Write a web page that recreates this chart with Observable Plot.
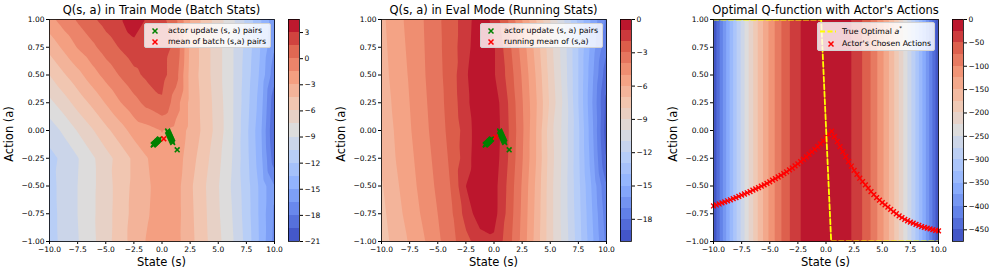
<!DOCTYPE html>
<html><head><meta charset="utf-8">
<script src="https://cdn.jsdelivr.net/npm/d3@7"></script>
<script src="https://cdn.jsdelivr.net/npm/@observablehq/plot@0.6"></script>
<style>
html,body{margin:0;padding:0;background:#fff;}
body{font-family:"DejaVu Sans",sans-serif;color:#000;}
#root{position:relative;width:996px;height:275px;overflow:hidden;}
.panel{position:absolute;top:0;width:332px;height:275px;}
.panel svg{position:absolute;top:0;overflow:visible;}
.t{position:absolute;white-space:nowrap;line-height:1;transform:translate(-50%,-50%);}
.big{font-size:11.5px;}
.rot{transform:translate(-50%,-50%) rotate(-90deg);}
.legend{position:absolute;background:rgba(255,255,255,0.8);border:1px solid #d3d3d3;border-radius:2px;box-sizing:border-box;}
.lt{position:absolute;font-size:7.8px;line-height:1;white-space:nowrap;transform:translateY(-50%);}
.lm{position:absolute;transform:translate(-50%,-50%);line-height:0;}
</style></head>
<body><div id="root"></div>
<script>
// ---------------- data ----------------
const xTicks = [-10, -7.5, -5, -2.5, 0, 2.5, 5, 7.5, 10];
const yTicks = [-1, -0.75, -0.5, -0.25, 0, 0.25, 0.5, 0.75, 1];

const gridStates = [-10, -8.75, -7.5, -6.25, -5, -3.75, -2.5, -1.25, 0, 1.25, 2.5, 3.75, 5, 6.25, 7.5, 8.75, 10];
const gridActions = [1, 0.75, 0.5, 0.25, 0, -0.25, -0.5, -0.75, -1];

// Q(s,a) in train mode, one row per action (top to bottom), one column per state
const trainQ = [
  [-2.0, -0.8, 0.2, 1.2, 2.1, 2.8, 4.2, 2.7, 2.0, 0.3, -3.0, -5.0, -6.8, -8.6, -10.8, -13.3, -16.0],
  [-4.0, -2.7, -1.4, -0.4, 0.7, 1.6, 2.4, 2.6, 2.0, 1.2, -3.3, -5.2, -7.0, -8.8, -11.0, -13.5, -16.5],
  [-6.0, -4.7, -3.5, -2.2, -1.0, 0.1, 1.1, 1.9, 2.0, 0.6, -3.5, -5.2, -7.0, -8.8, -11.2, -13.8, -17.5],
  [-7.9, -6.7, -5.4, -4.2, -2.9, -1.6, -0.5, 0.5, 1.3, -0.8, -3.4, -5.0, -6.8, -8.8, -11.4, -14.2, -19.2],
  [-9.9, -8.7, -7.4, -6.2, -4.9, -3.7, -2.4, -2.0, -1.45, -2.0, -3.4, -4.9, -6.7, -8.8, -11.6, -14.6, -19.7],
  [-10.9, -10.2, -9.1, -7.8, -6.6, -5.4, -4.2, -3.0, -2.0, -2.2, -3.8, -5.4, -7.1, -9.0, -11.5, -14.4, -19.0],
  [-11.0, -10.0, -9.0, -7.8, -6.8, -5.2, -4.2, -3.2, -2.2, -2.4, -4.2, -5.8, -7.4, -9.2, -11.3, -13.9, -16.5],
  [-11.1, -10.0, -9.0, -7.8, -6.7, -5.2, -4.1, -3.1, -2.2, -2.4, -4.1, -5.7, -7.3, -9.0, -11.2, -13.9, -16.8],
  [-11.2, -10.0, -9.1, -7.9, -6.6, -5.2, -3.9, -2.8, -2.1, -2.5, -4.0, -5.6, -7.1, -8.8, -11.0, -13.8, -17.0]
];

// Q(s,a) in eval mode
const evalQ = [
  [-6.25, -5.4, -4.7, -4.0, -3.2, -2.4, -1.5, -0.3, -1.3, -3.0, -5.0, -7.0, -9.0, -11.0, -13.2, -15.3, -17.2],
  [-6.35, -5.5, -4.8, -4.05, -3.25, -2.4, -1.4, -0.2, -0.9, -2.6, -4.4, -6.4, -8.6, -10.6, -13.0, -15.5, -17.8],
  [-6.45, -5.6, -4.9, -4.1, -3.3, -2.45, -1.15, -0.1, -0.9, -2.3, -4.1, -6.1, -8.4, -10.5, -13.0, -15.8, -18.7],
  [-6.6, -5.75, -5.0, -4.2, -3.4, -2.5, -1.3, -0.1, -0.4, -2.0, -3.9, -5.9, -8.2, -10.3, -13.0, -16.0, -19.4],
  [-6.7, -5.9, -5.1, -4.3, -3.5, -2.6, -1.6, -0.2, -0.3, -1.9, -3.8, -6.0, -8.6, -10.4, -12.8, -15.8, -19.6],
  [-6.9, -6.0, -5.25, -4.45, -3.65, -2.75, -1.5, -0.2, -0.4, -2.0, -3.9, -6.0, -8.5, -10.4, -12.8, -15.6, -19.2],
  [-7.1, -6.2, -5.4, -4.6, -3.8, -2.9, -1.0, -0.2, -0.6, -2.2, -4.1, -6.2, -8.6, -10.5, -12.7, -15.2, -18.0],
  [-7.3, -6.4, -5.6, -4.8, -4.0, -3.1, -1.6, -0.4, -0.6, -2.3, -4.2, -6.3, -8.6, -10.5, -12.6, -15.0, -17.6],
  [-7.5, -6.6, -5.9, -5.1, -4.2, -3.3, -2.3, -1.5, -1.2, -2.5, -4.3, -6.4, -8.6, -10.4, -12.5, -14.8, -17.3]
];

// optimal Q*(s) (same for every action)
const optStates = [-10, -9, -8, -7, -6, -5, -4, -3, -2, -1, 0, 1, 2, 3, 4, 5, 6, 7, 8, 9, 10];
const optActions = [1, -1];
const optQ = [-473, -385, -304, -233, -171, -119, -76, -43, -19, -5, 0, -5, -19, -43, -76, -119, -171, -233, -304, -385, -473];

// contour levels and colorbar ticks
const trainLevels = [-21, -19.5, -18, -16.5, -15, -13.5, -12, -10.5, -9, -7.5, -6, -4.5, -3, -1.5, 0, 1.5, 3, 4.5];
const evalLevels = [-20, -19, -18, -17, -16, -15, -14, -13, -12, -11, -10, -9, -8, -7, -6, -5, -4, -3, -2, -1, 0];
const optLevels = [-475, -450, -425, -400, -375, -350, -325, -300, -275, -250, -225, -200, -175, -150, -125, -100, -75, -50, -25, 0];
const trainTicks = [3, 0, -3, -6, -9, -12, -15, -18, -21];
const evalTicks = [0, -3, -6, -9, -12, -15, -18];
const optTicks = [0, -50, -100, -150, -200, -250, -300, -350, -400, -450];

// actor update (s, a) pairs
const updateS = [-0.78, -0.74, -0.69, -0.64, -0.6, -0.55, -0.5, -0.45, -0.4, -0.34, -0.28, -0.22,
                 0.5, 0.54, 0.58, 0.62, 0.66, 0.7, 0.74, 0.78, 0.82, 0.86, 0.9, 0.95, 1.35];
const updateA = [-0.13, -0.126, -0.122, -0.118, -0.113, -0.109, -0.104, -0.099, -0.094, -0.088, -0.082, -0.076,
                 -0.005, -0.015, -0.025, -0.034, -0.043, -0.052, -0.061, -0.07, -0.079, -0.088, -0.097, -0.108, -0.174];
const trainMean = [0.16, -0.075];
const evalMean = [0.13, -0.06];

// true optimal action line
const aStarS = [-10, -0.43, 0.46, 10];
const aStarA = [1, 1, -1, -1];

// actor's chosen actions, one per state from -10 to 10 in steps of 0.25
const actorA = [
  -0.680, -0.671, -0.662, -0.652, -0.643, -0.633, -0.624, -0.614, -0.604, -0.594, -0.583, -0.572,
  -0.561, -0.550, -0.538, -0.526, -0.514, -0.502, -0.489, -0.476, -0.462, -0.448, -0.434, -0.419,
  -0.404, -0.388, -0.372, -0.355, -0.338, -0.319, -0.300, -0.280, -0.260, -0.238, -0.216, -0.193,
  -0.170, -0.145, -0.120, -0.093, -0.065, -0.036, -0.005, -0.055, -0.100, -0.145, -0.190, -0.235,
  -0.280, -0.320, -0.360, -0.395, -0.430, -0.460, -0.490, -0.520, -0.550, -0.578, -0.605, -0.628,
  -0.650, -0.670, -0.690, -0.710, -0.730, -0.750, -0.770, -0.785, -0.800, -0.813, -0.825, -0.835,
  -0.845, -0.855, -0.865, -0.873, -0.880, -0.887, -0.893, -0.899, -0.905
];
const actorS = actorA.map((_, i) => -10 + i * 0.25);

const titles = ["Q(s, a) in Train Mode (Batch Stats)", "Q(s, a) in Eval Mode (Running Stats)", "Optimal Q-function with Actor's Actions"];
const xLabel = "State (s)";
const yLabel = "Action (a)";

// ---------------- drawing ----------------
const coolStops = ["#3b4cc0", "#6180e8", "#8db0fe", "#b6cdf8", "#dddcdc", "#f2c5ae", "#f49a7b", "#dc5d4a", "#b40426"];
const coolwarm = d3.piecewise(d3.interpolateRgb, coolStops);
const baseStyle = {background: "transparent", fontFamily: "DejaVu Sans", fontSize: "7.5px", color: "#000", overflow: "visible"};

function toPoints(states, actions, rows) {
  const pts = [];
  actions.forEach((a, i) => states.forEach((s, j) => pts.push({s, a, q: rows[i][j]})));
  return pts;
}
function colorOpts(levels) {
  const step = levels[1] - levels[0];
  return {type: "linear", domain: [levels[0] - step / 2, levels[levels.length - 1] - step / 2], interpolate: t => coolwarm(t)};
}
function mainPlot(points, levels, extra) {
  return Plot.plot({
    width: 290, height: 275, marginLeft: 49, marginRight: 16, marginTop: 19, marginBottom: 34,
    style: baseStyle,
    x: {domain: [-10, 10], ticks: xTicks, tickFormat: d3.format(".1f"), tickSize: 3, tickPadding: 2, label: null},
    y: {domain: [-1, 1], ticks: yTicks, tickFormat: d3.format(".2f"), tickSize: 3, tickPadding: 2, label: null},
    color: colorOpts(levels),
    marks: [
      Plot.contour(points, {x: "s", y: "a", fill: "q", thresholds: levels, interpolate: "barycentric", stroke: "none"}),
      ...extra,
      Plot.frame({stroke: "#000", strokeWidth: 0.8})
    ]
  });
}
function colorbar(levels, ticks) {
  const bands = levels.slice(0, -1).map((v, i) => ({lo: v, hi: levels[i + 1]}));
  return Plot.plot({
    width: 44, height: 275, marginLeft: 0, marginRight: 33, marginTop: 19, marginBottom: 34,
    style: baseStyle,
    x: {domain: [0, 1], axis: null},
    y: {domain: [levels[0], levels[levels.length - 1]], axis: "right", ticks, tickFormat: d3.format("d"), tickSize: 3, tickPadding: 2, label: null},
    color: colorOpts(levels),
    marks: [
      Plot.rect(bands, {x1: 0, x2: 1, y1: "lo", y2: "hi", fill: "lo", shapeRendering: "crispEdges"}),
      Plot.frame({stroke: "#000", strokeWidth: 0.8})
    ]
  });
}
function xMark(color) {
  return `<svg width="7" height="7" style="position:static;overflow:visible"><path d="M1,1L6,6M6,1L1,6" stroke="${color}" stroke-width="1.5"/></svg>`;
}
function addPanel(left, title, main, cb, legendHTML) {
  const root = document.getElementById("root");
  const div = document.createElement("div");
  div.className = "panel";
  div.style.left = left + "px";
  main.style.left = "0px";
  cb.style.left = "288px";
  div.append(main, cb);
  div.insertAdjacentHTML("beforeend",
    `<div class="t big" style="left:161.5px;top:11px">${title}</div>
     <div class="t big" style="left:161.5px;top:262.5px">${xLabel}</div>
     <div class="t big rot" style="left:10px;top:134px">${yLabel}</div>` + legendHTML);
  root.append(div);
}

const updatePts = updateS.map((s, i) => ({s, a: updateA[i]}));
const dotOpts = {x: "s", y: "a", symbol: "times", r: 2.3, strokeWidth: 1.6};

// Panel 1
addPanel(0, titles[0],
  mainPlot(toPoints(gridStates, gridActions, trainQ), trainLevels, [
    Plot.dot(updatePts, {...dotOpts, stroke: "green"}),
    Plot.dot([{s: trainMean[0], a: trainMean[1]}], {...dotOpts, stroke: "red"})
  ]),
  colorbar(trainLevels, trainTicks),
  `<div class="legend" style="left:144px;top:23px;width:127px;height:25px"></div>
   <div class="lm" style="left:155px;top:30.5px">${xMark("green")}</div>
   <div class="lt" style="left:168px;top:30.5px">actor update (s, a) pairs</div>
   <div class="lm" style="left:155px;top:42px">${xMark("red")}</div>
   <div class="lt" style="left:168px;top:42px">mean of batch (s,a) pairs</div>`);

// Panel 2
addPanel(332, titles[1],
  mainPlot(toPoints(gridStates, gridActions, evalQ), evalLevels, [
    Plot.dot(updatePts, {...dotOpts, stroke: "green"}),
    Plot.dot([{s: evalMean[0], a: evalMean[1]}], {...dotOpts, stroke: "red"})
  ]),
  colorbar(evalLevels, evalTicks),
  `<div class="legend" style="left:148px;top:23px;width:123px;height:25px"></div>
   <div class="lm" style="left:159px;top:30.5px">${xMark("green")}</div>
   <div class="lt" style="left:172px;top:30.5px">actor update (s, a) pairs</div>
   <div class="lm" style="left:159px;top:42px">${xMark("red")}</div>
   <div class="lt" style="left:172px;top:42px">running mean of (s,a)</div>`);

// Panel 3
const optRows = optActions.map(() => optQ);
const actorPts = actorS.map((s, i) => ({s, a: actorA[i]}));
const aStarPts = aStarS.map((s, i) => ({s, a: aStarA[i]}));
addPanel(664, titles[2],
  mainPlot(toPoints(optStates, optActions, optRows), optLevels, [
    Plot.dot(actorPts, {x: "s", y: "a", symbol: "times", r: 2.3, strokeWidth: 1.4, stroke: "red"}),
    Plot.line(aStarPts, {x: "s", y: "a", stroke: "#ffff00", strokeWidth: 1.8, strokeDasharray: "5,2.5", clip: true})
  ]),
  colorbar(optLevels, optTicks),
  `<div class="legend" style="left:153px;top:22px;width:118px;height:29px"></div>
   <div class="lm" style="left:164px;top:30.5px"><svg width="16" height="4" style="position:static"><line x1="0" y1="2" x2="16" y2="2" stroke="#ffff00" stroke-width="1.8" stroke-dasharray="5,2.5"/></svg></div>
   <div class="lt" style="left:178px;top:30.5px">True Optimal <i>a</i><sup style="font-size:5.5px">*</sup></div>
   <div class="lm" style="left:167px;top:43.5px">${xMark("red")}</div>
   <div class="lt" style="left:178px;top:43.5px">Actor's Chosen Actions</div>`);
</script></body></html>
